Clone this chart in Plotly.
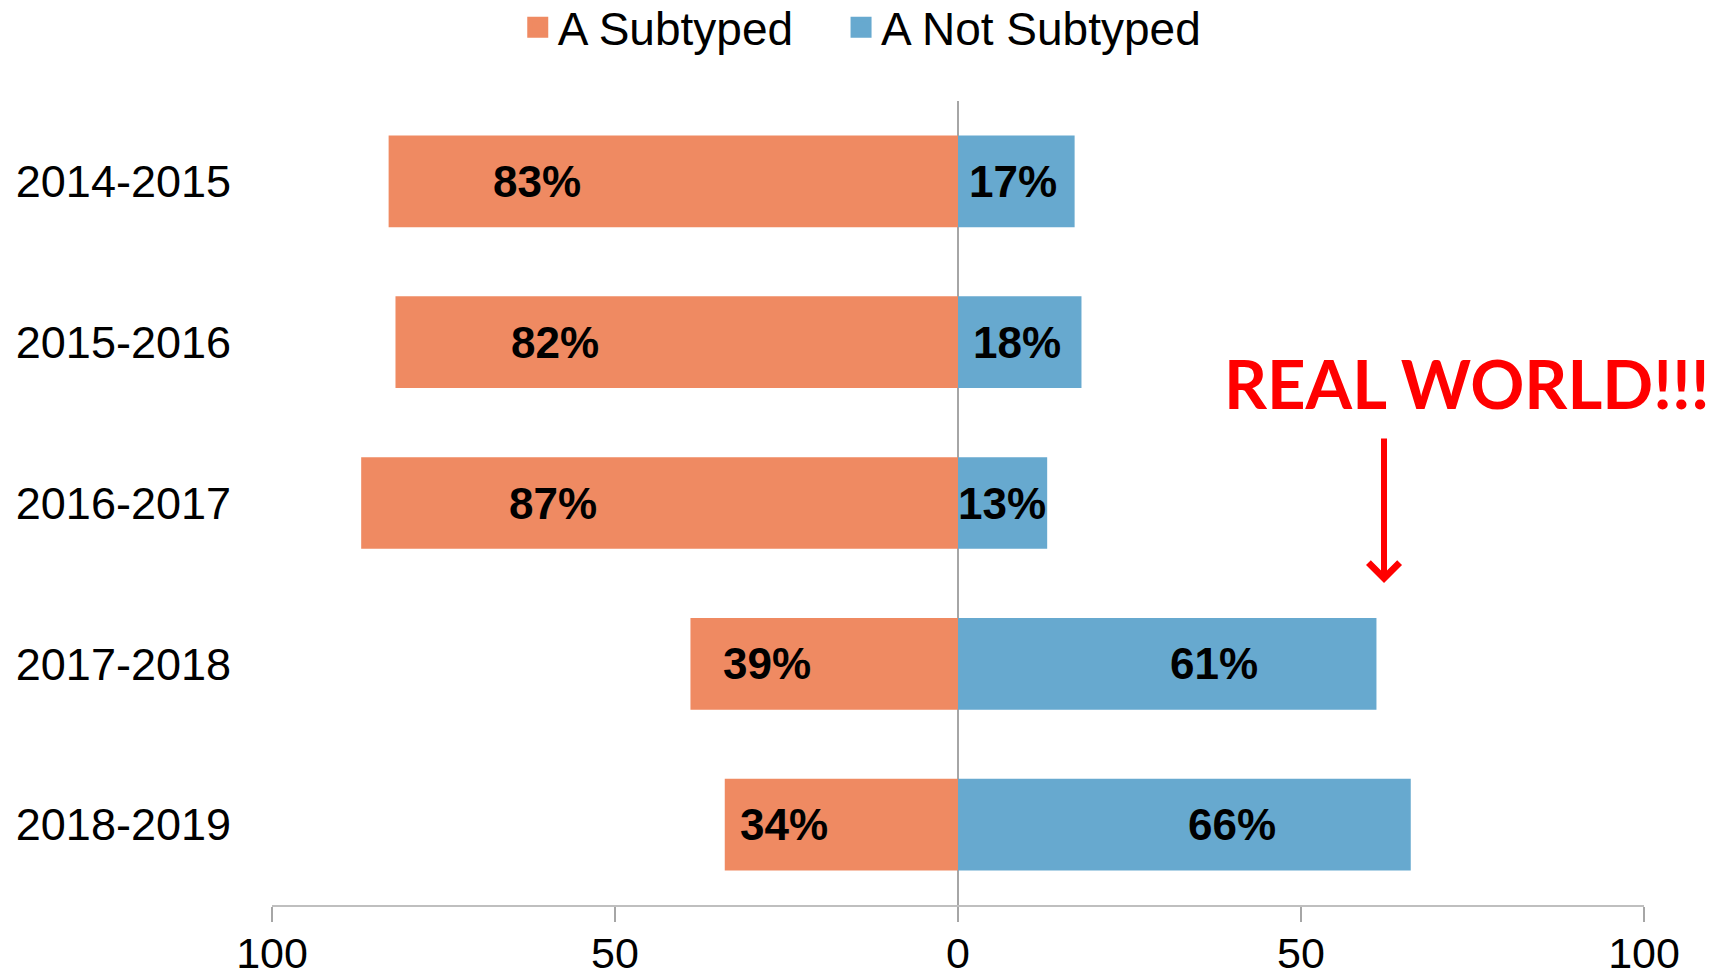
import plotly.graph_objects as go

# Season categories and the share of influenza A detections per group (%)
seasons = ["2014-2015", "2015-2016", "2016-2017", "2017-2018", "2018-2019"]
subtyped = [83, 82, 87, 39, 34]
not_subtyped = [17, 18, 13, 61, 66]

# Horizontal placement of the percentage labels (axis units)
label_x_subtyped = [-61.4, -58.7, -59.0, -27.8, -25.4]
label_x_not = [8.0, 8.6, 6.4, 37.3, 39.9]

tick_vals = [-100, -50, 0, 50, 100]
tick_text = ["100", "50", "0", "50", "100"]

ORANGE = "#EF8A62"
BLUE = "#67A9CF"
GREY = "#A6A6A6"
FONT = "Liberation Sans, Arial, sans-serif"

fig = go.Figure()

# Diverging bars: subtyped to the left of zero, not subtyped to the right
fig.add_trace(go.Bar(
    y=seasons, x=[-v for v in subtyped], orientation="h",
    marker=dict(color=ORANGE, line=dict(width=0)),
    name="A Subtyped", showlegend=False, hoverinfo="skip",
))
fig.add_trace(go.Bar(
    y=seasons, x=not_subtyped, orientation="h",
    marker=dict(color=BLUE, line=dict(width=0)),
    name="A Not Subtyped", showlegend=False, hoverinfo="skip",
))

# Legend entries with square swatches, one legend box per entry
for name, color, leg in [("A Subtyped", ORANGE, "legend"), ("A Not Subtyped", BLUE, "legend2")]:
    fig.add_trace(go.Scatter(
        x=[None], y=[None], mode="markers", name=name, legend=leg,
        marker=dict(symbol="square", size=21, color=color,
                    line=dict(color=color, width=5)),
    ))

annotations = []
for s, v, lx in zip(seasons, subtyped, label_x_subtyped):
    annotations.append(dict(x=lx, y=s, xref="x", yref="y", text=f"<b>{v}%</b>",
                            showarrow=False, font=dict(family=FONT, size=44, color="black")))
for s, v, lx in zip(seasons, not_subtyped, label_x_not):
    annotations.append(dict(x=lx, y=s, xref="x", yref="y", text=f"<b>{v}%</b>",
                            showarrow=False, font=dict(family=FONT, size=44, color="black")))

# Callout text and arrow
annotations.append(dict(
    x=0.871, y=0.649, xref="paper", yref="paper", text="<b>REAL WORLD!!!</b>",
    showarrow=False, xanchor="center", yanchor="middle",
    font=dict(family="Lato, Carlito, sans-serif", size=67, color="#FF0000"),
))
annotations.append(dict(
    x=62.1, y=0.4005, xref="x", yref="paper", text="",
    showarrow=True, ax=0, ay=-146, arrowhead=4, arrowsize=1.0,
    arrowwidth=6, arrowcolor="#FF0000", standoff=0,
))

legend_style = dict(orientation="h", xref="container", yref="container",
                    xanchor="left", y=0.972, yanchor="middle",
                    font=dict(family=FONT, size=46, color="black"),
                    bgcolor="rgba(0,0,0,0)", itemclick=False, itemdoubleclick=False)

fig.update_layout(
    width=1727, height=979,
    margin=dict(l=272, r=83, t=101, b=74, autoexpand=False),
    paper_bgcolor="white", plot_bgcolor="white",
    barmode="relative", bargap=0.43,
    font=dict(family=FONT, size=44, color="black"),
    legend=dict(x=0.2998, **legend_style),
    legend2=dict(x=0.487, **legend_style),
    annotations=annotations,
    showlegend=True,
)

fig.update_xaxes(
    range=[-100, 100], tickvals=tick_vals, ticktext=tick_text,
    ticks="outside", ticklen=15, tickwidth=1.5, tickcolor=GREY,
    showline=True, linecolor="#BFBFBF", linewidth=2,
    zeroline=True, zerolinecolor=GREY, zerolinewidth=1.5,
    showgrid=False, tickfont=dict(family=FONT, size=43, color="black"),
    ticklabelstandoff=-6, automargin=False, fixedrange=True,
)
fig.update_yaxes(
    range=[4.5, -0.5], categoryorder="array", categoryarray=seasons,
    showgrid=False, showline=False, zeroline=False, ticks="",
    ticklabelstandoff=40, tickfont=dict(family=FONT, size=45, color="black"),
    automargin=False, fixedrange=True,
)

fig.write_html("out.html")
